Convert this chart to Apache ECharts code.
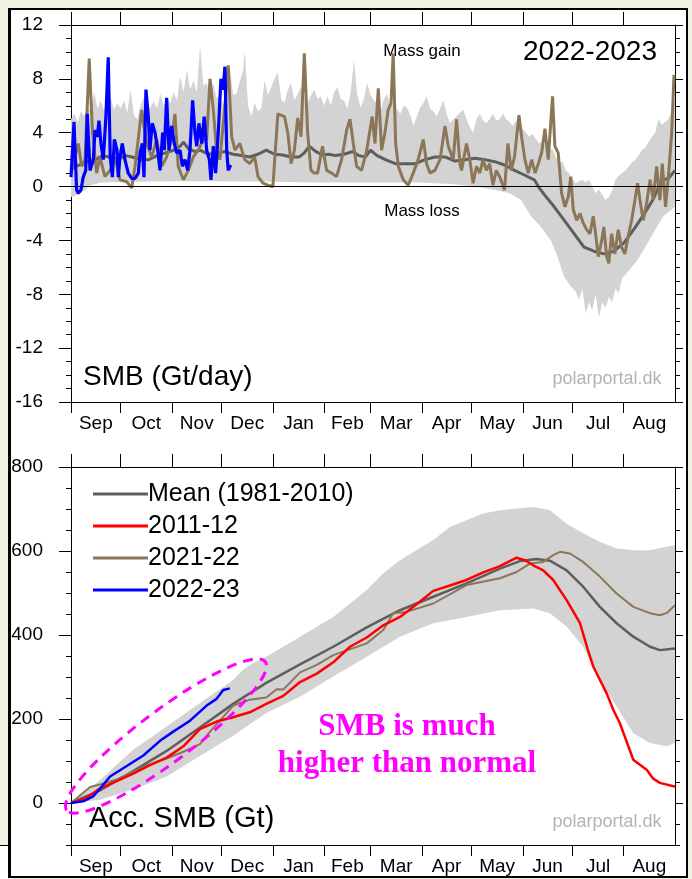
<!DOCTYPE html>
<html>
<head>
<meta charset="utf-8">
<script src="https://cdn.jsdelivr.net/npm/echarts@6/dist/echarts.min.js"></script>
<style>
  html, body { margin: 0; padding: 0; background: #edf2e1; }
  #frame { position: absolute; left: 8px; top: 8px; width: 675px; height: 866px;
    background: #fff; border: 2px solid #000; border-left-width: 3px; }
  #notch { position: absolute; left: 0; top: 845px; width: 8px; height: 34px;
    background: #fff; border-top: 1px solid #000; }
  #chart { position: absolute; left: 0; top: 0; width: 692px; height: 879px; }
</style>
</head>
<body>
<div id="frame"></div>
<div id="notch"></div>
<div id="chart"></div>
<script>
// day 0 = 1 Sep, day 365 = 31 Aug
var monthStarts = [0, 30, 61, 91, 122, 153, 181, 212, 242, 273, 303, 334];
var monthMids = [15, 45.5, 76, 106.5, 137.5, 167, 196.5, 227, 257.5, 288, 318.5, 349.5];
var monthNames = ["Sep", "Oct", "Nov", "Dec", "Jan", "Feb", "Mar", "Apr", "May", "Jun", "Jul", "Aug"];
var accTicks = [0, 200, 400, 600, 800];

// SMB (Gt/day) - daily values [day, value]
var dailyMax = [[0,5.0],[2,5.4],[4,4.8],[6,5.6],[8,5.2],[10,6.0],[12,5.5],[14,7.0],[16,5.8],[18,6.4],[20,5.6],[22,6.8],[24,6.6],[26,5.7],[28,6.2],[30,5.8],
  [32,6.4],[34,5.5],[36,7.2],[38,5.3],[40,5.0],[42,6.0],[44,6.6],[46,5.6],[48,5.9],[50,6.3],[52,5.8],[54,6.9],[56,6.0],[58,6.6],[60,6.2],
  [62,7.0],[64,6.4],[66,8.2],[68,7.0],[70,8.7],[72,7.2],[74,7.9],[76,7.0],[78,10.4],[80,7.5],[82,7.7],[84,6.8],[86,7.7],[88,6.5],[90,6.9],
  [92,6.0],[94,7.5],[96,8.9],[98,6.8],[100,6.9],[102,7.8],[104,8.6],[105,10.1],[107,6.0],[109,5.2],[111,6.2],[113,5.6],[115,5.8],[117,7.9],[119,6.8],[121,7.4],
  [123,8.0],[125,8.5],[127,6.5],[129,6.2],[131,7.2],[133,7.7],[135,6.4],[137,6.9],[139,7.4],[141,6.6],[143,6.2],[145,6.8],[147,7.2],[149,6.5],[151,6.7],[153,6.0],
  [155,6.7],[157,6.0],[159,7.0],[161,7.4],[163,6.5],[165,6.4],[167,5.8],[169,7.0],[171,9.4],[173,6.8],[175,5.9],[177,6.5],[179,7.7],[181,6.8],
  [183,6.4],[185,6.2],[187,5.5],[189,6.5],[191,6.9],[193,6.0],[195,6.2],[197,5.7],[199,5.4],[201,6.0],[203,5.9],[205,5.3],[207,4.5],[209,5.2],[211,5.9],
  [213,6.2],[215,6.7],[217,5.8],[219,5.6],[221,5.2],[223,5.8],[225,6.4],[227,5.4],[229,4.7],[231,5.0],[233,5.2],[235,5.5],[237,5.7],[239,5.0],[241,4.4],
  [243,4.0],[245,5.0],[247,5.4],[249,4.9],[251,4.7],[253,5.0],[255,5.4],[257,4.9],[259,5.0],[261,5.4],[263,5.0],[265,4.8],[267,4.5],[269,4.9],[271,4.7],
  [273,4.3],[275,4.0],[277,3.7],[279,3.9],[281,3.5],[283,3.2],[285,3.4],[287,3.0],[289,2.7],[291,2.8],[293,2.2],[295,1.7],[297,1.9],[299,1.2],[301,1.0],
  [303,0.6],[305,0.25],[307,0.4],[309,0.5],[311,0.3],[313,0.5],[315,0.0],[317,-0.5],[319,-0.2],[321,-0.6],[323,-1.0],[325,-0.8],[327,-0.3],[329,0.5],[331,0.8],[333,1.0],
  [335,1.2],[337,1.5],[339,1.8],[341,2.0],[343,2.3],[345,2.7],[347,2.9],[349,3.3],[351,3.7],[353,4.0],[355,5.0],[357,4.6],[359,4.8],[361,5.0],[363,5.6],[365,6.4]];
var dailyMin = [[0,-0.8],[4,-0.6],[8,-0.3],[12,0.1],[18,0.3],[40,0.35],[60,0.4],[90,0.4],[120,0.35],[150,0.3],[180,0.3],[210,0.3],[230,0.2],
  [244,0],[256,-0.25],[265,-0.5],[272,-1.0],[278,-2.2],[284,-3.0],[290,-4.0],[294,-5.2],[298,-6.7],[302,-7.4],[305,-7.8],[307,-8.4],[309,-7.6],
  [311,-9.4],[313,-8.6],[315,-9.2],[317,-8.0],[319,-9.7],[321,-8.6],[323,-9.0],[325,-8.2],[327,-8.6],[329,-7.6],[331,-7.9],[333,-6.8],[336,-6.4],
  [342,-5.5],[347,-4.5],[353,-3.2],[358,-2.2],[363,-1.7],[365,-1.5]];
var dailyMean = [[0,1.3],[3,1.5],[7,1.7],[11,1.9],[15,2.0],[19,2.3],[23,2.2],[28,2.0],[33,2.3],[37,2.2],[42,2.0],[47,2.0],[52,2.3],[57,2.5],[62,2.7],
  [66,3.0],[68,3.3],[71,2.8],[75,2.6],[78,2.7],[83,2.4],[88,2.5],[93,2.6],[98,2.4],[103,2.3],[108,2.2],[113,2.4],[118,2.7],[123,2.4],[128,2.35],
  [133,2.2],[138,2.2],[141,2.5],[144,3.0],[148,2.6],[152,2.35],[156,2.4],[160,2.3],[165,2.4],[170,2.6],[174,2.3],[178,2.2],[181,2.7],[185,2.3],
  [190,2.0],[196,1.7],[202,1.7],[208,1.7],[214,2.0],[220,2.2],[226,2.2],[232,1.9],[238,2.0],[244,2.1],[250,2.0],[256,1.85],[262,1.6],[268,1.2],
  [274,0.86],[280,0.5],[283,-0.1],[286,-0.6],[292,-1.5],[298,-2.5],[304,-3.5],[310,-4.5],[316,-4.8],[322,-5.0],[328,-4.8],[334,-4.2],[340,-3.2],
  [346,-2.1],[352,-0.9],[357,0.5],[361,0.6],[365,1.2]];
var daily2122 = [[0,1.0],[2.4,2.2],[4.4,3.2],[6.5,1.5],[8.5,2.0],[11,9.5],[13,4.0],[15.5,1.0],[17.5,2.2],[20.5,0.74],[23.6,1.2],[26.6,2.2],[29.6,0.5],
  [33.7,0.36],[36.7,-0.1],[38.7,1.5],[42.7,5.7],[45.7,3.2],[48.8,2.2],[51.8,3.5],[54.8,1.5],[57.8,2.2],[60.8,3.5],[62.8,5.4],[64.8,1.5],[67.9,0.5],
  [70.9,1.2],[73.9,2.2],[76.9,2.7],[79.9,3.5],[82,3.5],[84,8.0],[86,5.7],[88,2.7],[90,2.0],[92.4,5.2],[95,9.0],[97.1,3.7],[99.1,2.7],[102,3.2],
  [105,2.0],[108,1.7],[111,2.2],[113,0.74],[116,0.25],[119,0.1],[122,0],[125,5.4],[129,5.2],[131,4.0],[133,1.7],[135,2.7],[137,5.1],[139,3.7],
  [141,9.9],[143,4.0],[145,1.2],[147,1.0],[149,1.0],[152,3.0],[154.5,1.2],[157.5,1.0],[160.5,0.74],[163.5,2.0],[166.6,4.2],[168.6,5.0],[170.6,3.2],
  [172.6,1.5],[175.6,1.2],[178.7,2.7],[182,5.2],[183.7,3.2],[185.7,7.3],[187.7,2.7],[189.7,4.0],[191.7,5.7],[193.4,6.2],[194.7,9.9],[196.2,3.2],
  [197.8,1.5],[200.8,0.5],[203.8,0.1],[206.8,1.0],[209.8,2.0],[212.9,3.5],[214.9,1.7],[216.9,1.0],[219.9,1.2],[223,2.0],[226,4.5],[228,3.0],
  [231,2.0],[233,5.0],[235,1.7],[236,1.2],[239,3.2],[241,2.0],[243,0.25],[245,1.5],[247,1.0],[249,2.0],[251,1.2],[253,1.7],[255,0.1],[257,1.2],
  [259,0.74],[262,-0.25],[264,3.2],[266,1.2],[268,2.2],[270.7,5.3],[272.3,3.7],[274.3,2.0],[276.3,1.0],[278.4,2.0],[280.4,1.0],[282.4,1.7],
  [284.4,2.5],[286.4,4.3],[288.4,2.0],[291,6.7],[292.4,3.0],[294.4,2.5],[296.5,-0.5],[298.5,-1.5],[300.5,-0.75],[302,0.74],[303.5,-1.7],
  [305.6,-2.5],[307.6,-2.0],[309.5,-2.7],[311.6,-3.2],[313.6,-3.5],[315.6,-2.2],[317,-3.5],[318.6,-5.2],[320.7,-4.0],[322,-3.0],[323.7,-5.2],
  [325,-5.7],[326.7,-3.5],[328.7,-5.0],[330.7,-3.2],[332.7,-4.5],[334.7,-5.0],[336.7,-3.7],[338.8,-2.5],[340.8,-1.0],[342.4,0.25],[343.8,-1.0],
  [345.8,-2.5],[347.9,-1.2],[349.9,0.5],[351.8,-1.0],[353.9,1.5],[355.9,-1.0],[357.3,1.7],[359.3,-1.5],[361.3,1.2],[363,4.0],[364.4,8.3]];
var daily2223 = [[0,0.7],[1.8,4.8],[3.4,-0.25],[4.4,-0.5],[6,-0.25],[7.4,0.7],[8.9,1.2],[9.8,5.4],[11.5,1.2],[13.5,2.0],[14.5,4.2],[15.9,3.7],
  [16.9,4.9],[18.1,3.2],[19.5,2.0],[21.1,5.2],[22.5,9.6],[23.7,2.2],[25,0.7],[26.2,3.5],[27.8,2.7],[28.6,0.7],[29.6,2.2],[31,3.2],[32.6,2.0],
  [34.6,1.0],[36.7,0.6],[38.7,0.6],[40.7,1.0],[41.7,2.5],[43.1,3.2],[44.1,0.7],[45.3,7.2],[46.7,5.2],[47.7,2.7],[49.1,4.7],[50.8,4.0],[52.4,2.7],
  [53.8,1.2],[55.4,4.0],[56.4,2.7],[57.8,6.6],[59.2,2.7],[60.8,4.5],[62.4,3.2],[63.9,2.5],[65.9,2.7],[67.3,1.5],[68.9,2.0],[70.5,1.2],[71.9,2.7],
  [73.5,6.4],[74.9,4.0],[76,3.0],[77.3,4.7],[79,3.2],[80.5,5.2],[82,2.7],[83.6,2.0],[84.6,0.5],[86,3.0],[87.4,1.0],[89,4.0],[90.6,8.0],[92,7.2],
  [93,8.9],[94.1,2.7],[95,1.2],[96.5,1.6]];

// Acc. SMB (Gt) [day, value]
var accMax = [[0,0],[17.5,55],[37.6,127],[57.8,182],[77.9,238],[98,293],[104,318],[110,333],[118,348],[138.4,396],[158.5,443],[178.7,507],[188.7,547],
  [198.8,578],[218.9,626],[229,657],[239,673],[249.1,689],[259.2,697],[269.3,701],[279.3,705],[289.4,697],[299.5,665],[309.5,642],[319.6,622],
  [329.7,606],[339.8,602],[349.9,602],[359.9,610],[365,614]];
var accMin = [[0,0],[17.5,8],[37.6,32],[57.8,63],[77.9,112],[98,160],[118,214],[138.4,253],[158.5,301],[178.7,348],[198.8,396],[218.9,428],
  [239,443],[259.2,459],[279.3,463],[289.4,452],[299.5,420],[309.5,372],[319.6,293],[329.7,230],[339.8,166],[349.9,143],[359.9,135],[365,143]];
var accMean = [[0,0],[17.5,30],[37.6,76],[57.8,124],[77.9,180],[98,236],[118,286],[138.4,330],[158.5,372],[178.7,418],[198.8,459],[218.9,491],
  [239,523],[259.2,558],[271.3,576],[281.4,581],[289.4,577],[299.5,554],[309.5,515],[319.6,467],[329.7,428],[339.8,396],[349.9,372],[355.9,364],[365,368]];
var acc1112 = [[0,0],[9.5,12],[17.5,35],[27.6,52],[37.6,70],[47.7,90],[57.8,108],[67.9,135],[77.9,176],[88,194],[98,204],[108,216],[118,236],
  [128.3,255],[138.4,288],[148.5,308],[158.5,335],[168.6,372],[178.7,394],[188.7,423],[198.8,443],[208.9,473],[218.9,505],[229,518],[239,531],
  [249.1,549],[259.2,564],[269.3,584],[274.3,578],[279.3,566],[285.4,554],[291.4,531],[299.5,483],[307.6,428],[312.4,364],[315.6,325],[323.7,261],
  [327.7,222],[331.7,190],[339.8,103],[345.8,85],[347.9,79],[351.8,58],[355.9,48],[364,40],[365,40]];
var acc2122 = [[0,0],[11.5,38],[17.5,44],[27.6,56],[37.6,74],[47.7,92],[57.8,106],[67.9,122],[77.9,140],[84,170],[90,196],[98,232],[108,246],
  [118,251],[124.3,271],[128.3,270],[138.4,311],[148.5,329],[158.5,352],[178.7,380],[188.7,412],[194.7,452],[202.8,455],[218.9,475],[239,519],
  [259.2,535],[269.3,550],[277.3,570],[285.4,574],[291.4,590],[295.5,598],[301.5,594],[309.5,574],[319.6,539],[329.7,499],[339.8,467],[349.9,452],
  [355.9,447],[359.9,452],[365,471]];
var acc2223 = [[0,0],[7.4,4],[13.5,16],[17.5,34],[23.6,63],[33.7,88],[43.7,113],[53.8,148],[61.8,170],[71.9,196],[82,232],[88,248],[92,269],[96,273]];

var bandColor = "#d3d3d3";
var meanColor = "#5e5e5e";
var brownColor = "#8c7658";
var font = '"Liberation Sans", Arial, Helvetica, sans-serif';

function bandSeries(upper, lower, xi, yi) {
  return {
    type: "custom",
    xAxisIndex: xi,
    yAxisIndex: yi,
    silent: true,
    z: 1,
    data: [[0, 0]],
    renderItem: function (params, api) {
      var pts = upper.map(function (p) { return api.coord(p); });
      var back = lower.slice().reverse().map(function (p) { return api.coord(p); });
      return { type: "polygon", shape: { points: pts.concat(back) }, style: { fill: bandColor } };
    },
  };
}

function lineSeries(name, data, color, width, xi, yi, z) {
  return {
    name: name,
    type: "line",
    xAxisIndex: xi,
    yAxisIndex: yi,
    data: data,
    showSymbol: false,
    symbol: "none",
    z: z,
    color: color,
    itemStyle: { color: color },
    lineStyle: { color: color, width: width },
    animation: false,
  };
}

function monthAxis(grid, pos) {
  var bottom = pos == "bottom";
  return {
    type: "value",
    gridIndex: grid,
    position: pos,
    min: 0,
    max: 365,
    axisLine: { show: true, onZero: false, lineStyle: { color: "#000", width: 1 } },
    axisTick: { show: true, customValues: monthStarts, length: bottom ? 11 : 13, lineStyle: { color: "#000" } },
    axisLabel: {
      show: bottom,
      customValues: monthMids,
      margin: 12,
      color: "#000",
      fontSize: 19,
      fontFamily: font,
      formatter: function (v) {
        return monthNames[monthMids.indexOf(v)];
      },
    },
    splitLine: { show: false },
  };
}

function valueAxis(grid, pos, min, max, interval, opt) {
  var left = pos == "left";
  return {
    type: "value",
    gridIndex: grid,
    position: pos,
    min: min,
    max: max,
    interval: interval,
    axisLine: { show: opt.line, onZero: false, lineStyle: { color: "#000", width: 1 } },
    axisTick: {
      show: true,
      length: opt.tick,
      customValues: opt.ticks,
      lineStyle: { color: "#000" },
    },
    minorTick: { show: !!opt.minor, splitNumber: opt.minor || 5, length: 5, lineStyle: { color: "#000" } },
    axisLabel: {
      show: left && opt.labels,
      customValues: opt.ticks,
      margin: 28,
      color: "#000",
      fontSize: 19,
      fontFamily: font,
    },
    splitLine: { show: false },
    minorSplitLine: { show: false },
  };
}

var myChart = echarts.init(document.getElementById("chart"));

var topMean = lineSeries("Mean (1981-2010)", dailyMean, meanColor, 3, 0, 0, 3);
topMean.markLine = {
  silent: true,
  symbol: "none",
  label: { show: false },
  lineStyle: { color: "#000", width: 1, type: "solid" },
  data: [{ yAxis: 0 }],
};

myChart.setOption({
  animation: false,
  grid: [
    { left: 71, top: 25, width: 604, height: 377, outerBoundsMode: "none" },
    { left: 71, top: 467, width: 604, height: 378, outerBoundsMode: "none" },
  ],
  xAxis: [monthAxis(0, "bottom"), monthAxis(0, "top"), monthAxis(1, "bottom"), monthAxis(1, "top")],
  yAxis: [
    valueAxis(0, "left", -16, 12, 4, { line: true, tick: 12, minor: 4, labels: true }),
    valueAxis(0, "right", -16, 12, 4, { line: true, tick: 8, minor: 4 }),
    valueAxis(1, "left", -100, 800, 100, { line: true, tick: 12, ticks: accTicks, labels: true }),
    valueAxis(1, "left", -100, 800, 50, { line: false, tick: 5 }),
    valueAxis(1, "right", -100, 800, 100, { line: true, tick: 8, ticks: accTicks }),
    valueAxis(1, "right", -100, 800, 50, { line: false, tick: 5 }),
  ],
  legend: {
    data: ["Mean (1981-2010)", "2011-12", "2021-22", "2022-23"],
    orient: "vertical",
    left: 88,
    top: 476,
    icon: "rect",
    itemWidth: 55,
    itemHeight: 3,
    itemGap: 6,
    selectedMode: false,
    textStyle: { color: "#000", fontSize: 25, fontFamily: font, lineHeight: 26, padding: [0, 0, 0, -5] },
  },
  series: [
    bandSeries(dailyMax, dailyMin, 0, 0),
    topMean,
    lineSeries("2021-22", daily2122, brownColor, 3, 0, 0, 4),
    lineSeries("2022-23", daily2223, "#0000ff", 3.2, 0, 0, 5),
    bandSeries(accMax, accMin, 2, 2),
    lineSeries("Mean (1981-2010)", accMean, meanColor, 2.5, 2, 2, 3),
    lineSeries("2021-22", acc2122, brownColor, 2, 2, 2, 4),
    lineSeries("2011-12", acc1112, "#ff0000", 2.5, 2, 2, 5),
    lineSeries("2022-23", acc2223, "#0000ff", 2.5, 2, 2, 6),
  ],
  graphic: [
    { type: "text", x: 422, y: 51, style: { text: "Mass gain", font: "17px " + font, fill: "#000", align: "center", verticalAlign: "middle", textAlign: "center", textVerticalAlign: "middle" } },
    { type: "text", x: 422, y: 211, style: { text: "Mass loss", font: "17px " + font, fill: "#000", align: "center", verticalAlign: "middle", textAlign: "center", textVerticalAlign: "middle" } },
    { type: "text", x: 590, y: 52, style: { text: "2022-2023", font: "28px " + font, fill: "#000", align: "center", verticalAlign: "middle", textAlign: "center", textVerticalAlign: "middle" } },
    { type: "text", x: 83, y: 377, style: { text: "SMB (Gt/day)", font: "28px " + font, fill: "#000", align: "left", verticalAlign: "middle", textAlign: "left", textVerticalAlign: "middle" } },
    { type: "text", x: 607, y: 379, style: { text: "polarportal.dk", font: "18px " + font, fill: "#b3b3b3", align: "center", verticalAlign: "middle", textAlign: "center", textVerticalAlign: "middle" } },
    { type: "text", x: 89, y: 819, style: { text: "Acc. SMB (Gt)", font: "29px " + font, fill: "#000", align: "left", verticalAlign: "middle", textAlign: "left", textVerticalAlign: "middle" } },
    { type: "text", x: 607, y: 822, style: { text: "polarportal.dk", font: "18px " + font, fill: "#b3b3b3", align: "center", verticalAlign: "middle", textAlign: "center", textVerticalAlign: "middle" } },
    { type: "text", x: 407, y: 727, z: 100, style: { text: "SMB is much", font: 'bold 31px "Liberation Serif", "Times New Roman", serif', fill: "#ff00ff", align: "center", verticalAlign: "middle", textAlign: "center", textVerticalAlign: "middle" } },
    { type: "text", x: 407, y: 764, z: 100, style: { text: "higher than normal", font: 'bold 31px "Liberation Serif", "Times New Roman", serif', fill: "#ff00ff", align: "center", verticalAlign: "middle", textAlign: "center", textVerticalAlign: "middle" } },
    {
      type: "ellipse",
      x: 166,
      y: 736,
      rotation: 0.642,
      z: 100,
      shape: { cx: 0, cy: 0, rx: 124, ry: 26 },
      style: { fill: "none", stroke: "#ff00ff", lineWidth: 3, lineDash: [10, 7] },
    },
  ],
});
</script>
</body>
</html>
